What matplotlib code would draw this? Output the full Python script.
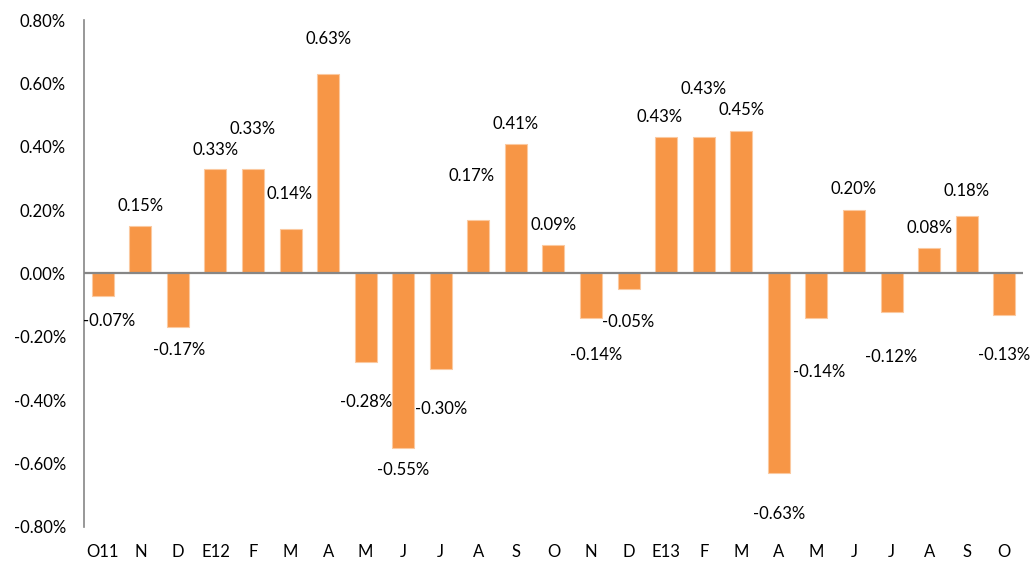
import matplotlib
matplotlib.use('Agg')
import matplotlib.pyplot as plt
import numpy as np

meses = ['O11', 'N', 'D', 'E12', 'F', 'M', 'A', 'M', 'J', 'J', 'A', 'S', 'O',
         'N', 'D', 'E13', 'F', 'M', 'A', 'M', 'J', 'J', 'A', 'S', 'O']
valores = [-0.07, 0.15, -0.17, 0.33, 0.33, 0.14, 0.63, -0.28, -0.55, -0.30,
           0.17, 0.41, 0.09, -0.14, -0.05, 0.43, 0.43, 0.45, -0.63, -0.14,
           0.20, -0.12, 0.08, 0.18, -0.13]
marcas_y = [-0.8, -0.6, -0.4, -0.2, 0.0, 0.2, 0.4, 0.6, 0.8]

# desplazamiento de cada etiqueta respecto al extremo de la barra (pixeles)
despl_x = [6, 0, 1, 0, 0, -1, 0, 0, 0, 0, -7, 0, 0, 5, 0, -7, 0, 0, 0, 3,
           0, 0, 0, 0, 0]
despl_y = [-25, 20, -23, 19, 40, 35, 35, -40, -22, -40, 44, 20, 20, -37, -33,
           20, 48, 21, -41, -54, 21, -45, 20, 25, -40]

plt.rcParams['font.family'] = ['Lato', 'DejaVu Sans']

fig = plt.figure(figsize=(10.33, 5.62), dpi=100)
ax = fig.add_axes([0.0813, 0.0623, 0.909, 0.9021])

x = np.arange(len(meses))
ax.bar(x, valores, 0.585, color='#F79646', edgecolor='#FBC9A0', linewidth=0.8, zorder=2)
ax.axhline(0, color='#868686', linewidth=1.6, zorder=3)

for i, v in enumerate(valores):
    ax.annotate('%.2f%%' % v, (x[i], v),
                xytext=(despl_x[i] * 0.72, despl_y[i] * 0.72),
                textcoords='offset points', ha='center', va='center',
                fontsize=12, color='#000000')

ax.set_xlim(-0.5, len(meses) - 0.5)
ax.set_ylim(-0.8, 0.8)
ax.set_yticks(marcas_y)
ax.set_yticklabels(['%.2f%%' % t for t in marcas_y])
ax.set_xticks(x)
ax.set_xticklabels(meses)
ax.tick_params(axis='both', length=0, labelsize=12, labelcolor='#000000')
ax.tick_params(axis='y', pad=13)
ax.tick_params(axis='x', pad=12)

for s in ['top', 'right', 'bottom']:
    ax.spines[s].set_visible(False)
ax.spines['left'].set_color('#868686')
ax.spines['left'].set_linewidth(1.2)

fig.savefig('out.png', dpi=100)
